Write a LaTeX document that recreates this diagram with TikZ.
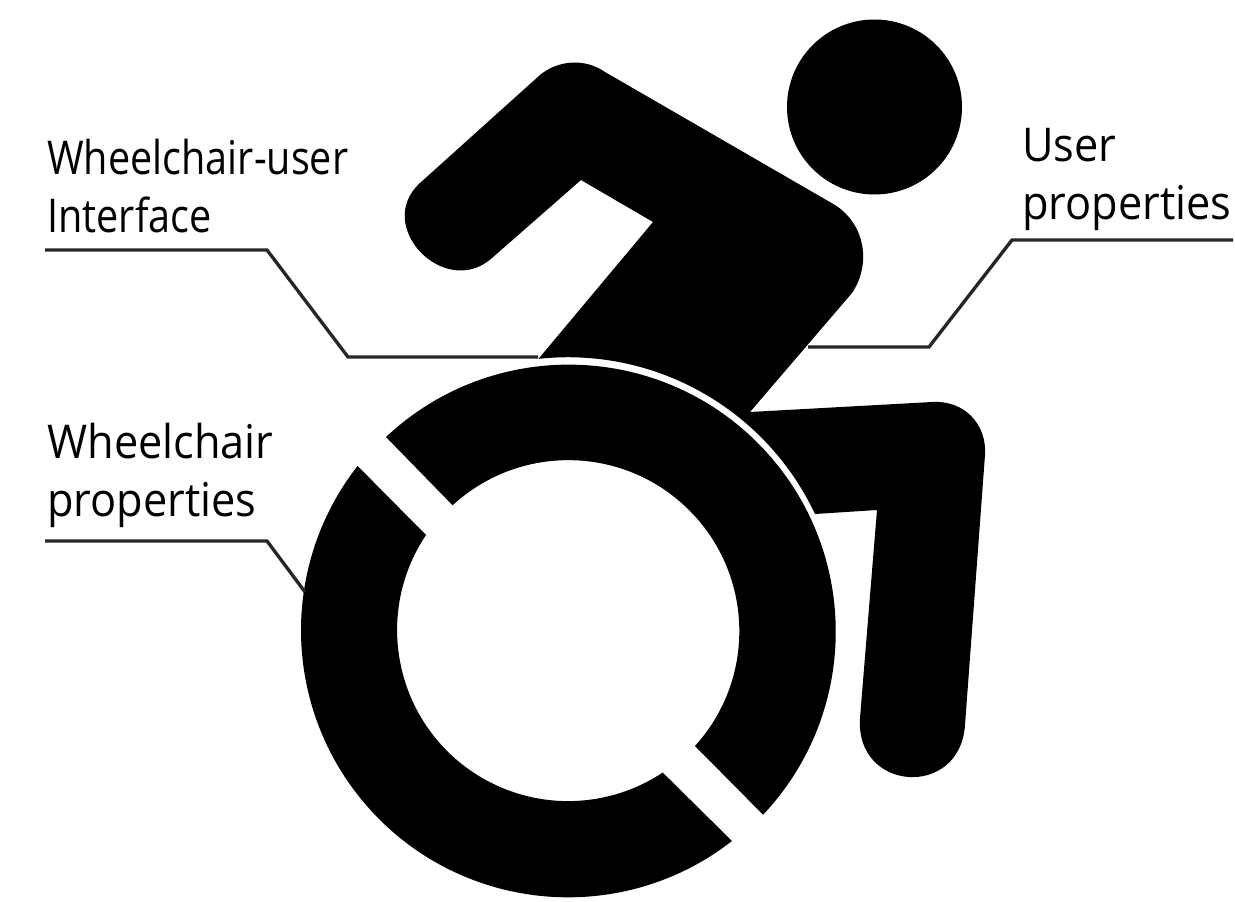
\documentclass[tikz,border=0pt]{standalone}
\usepackage{fontspec}
\setmainfont[FakeStretch=0.85]{Open Sans}
\newfontfamily\widefont[FakeStretch=0.93]{Open Sans}
\tikzset{
  lbl/.style={anchor=base west,inner sep=0pt,font=\fontsize{26.5}{30}\selectfont},
  widelbl/.style={lbl,font=\fontsize{26.5}{30}\selectfont\widefont},
  leader/.style={line width=1.9pt,color=black!85,line join=miter},
}
\begin{document}
\begin{tikzpicture}[x=0.02cm,y=-0.02cm]
\useasboundingbox (0,0) rectangle (1235,902);
% head
\fill (874.5,107) circle (87.5);
% body, arm and leg
\fill (420,183) -- (540,75) .. controls (558,60) and (585,58) .. (605,72)
  -- (835,205) .. controls (866,225) and (871,265) .. (852,293)
  -- (750,412) -- (932,402) .. controls (965,400) and (987,425) .. (985,455)
  -- (965,725) .. controls (960,799) and (855,792) .. (860,718)
  -- (877,510) -- (815,514)
  arc (-25.2:-96.2:273) -- (653,222) -- (581,180) -- (492,258)
  .. controls (445,300) and (373,226) .. (420,183) -- cycle;
% wheel
\fill (386,437) arc (-133.2:43.3:267) -- (695,746) arc (42.2:-132.6:171) -- cycle;
\fill (732,841) arc (52.1:218:267) -- (426,535) arc (213.8:56.4:171) -- cycle;
% labels
\node[lbl] (wui) at (47,175) {Wheelchair-user};
\node[lbl] (wuib) at (47,233) {Interface};
\node[widelbl] (wp) at (47,459) {Wheelchair};
\node[widelbl] (wpb) at (47,517) {properties};
\node[widelbl] (up) at (1022,162) {User};
\node[widelbl] (upb) at (1022,220) {properties};
% leaders
\coordinate (wuistart) at (45,250);
\coordinate (wuiend) at (538,357);
\coordinate (wpstart) at (45,541);
\coordinate (wpend) at (305,592);
\coordinate (upstart) at (1233,240);
\coordinate (upend) at (808,347);
\draw[leader] (wuistart) -- (267,250) -- (348,357) -- (wuiend);
\draw[leader] (wpstart) -- (267,541) -- (wpend);
\draw[leader] (upstart) -- (1012,240) -- (929,347) -- (upend);
\end{tikzpicture}
\end{document}
